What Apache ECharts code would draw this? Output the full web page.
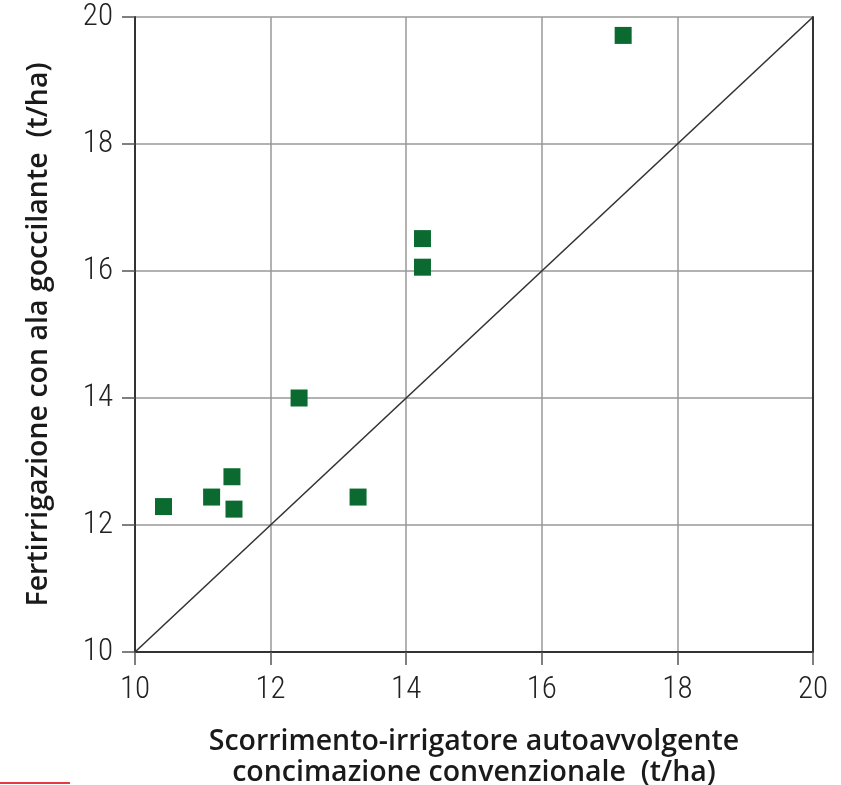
<!DOCTYPE html>
<html><head><meta charset="utf-8">
<script src="https://cdn.jsdelivr.net/npm/echarts@6/dist/echarts.min.js"></script>
<style>html,body{margin:0;padding:0;background:#fff}#c{width:841px;height:785px}</style>
</head><body><div id="c"></div>
<script>
const xValues = [10.42, 11.13, 11.43, 11.46, 12.42, 13.29, 14.24, 14.24, 17.2];
const yValues = [12.29, 12.44, 12.76, 12.25, 14.0, 12.44, 16.51, 16.06, 19.71];
const refLine = [[10, 10], [20, 20]];
const xTitle = 'Scorrimento-irrigatore autoavvolgente\nconcimazione convenzionale  (t/ha)';
const yTitle = 'Fertirrigazione con ala goccilante  (t/ha)';

const pts = xValues.map((x, i) => [x, yValues[i]]);
const tickFont = { fontFamily: 'Roboto Condensed, Roboto, sans-serif', fontWeight: 300, fontSize: 31, color: '#222' };
const titleFont = { fontFamily: 'Open Sans, sans-serif', fontWeight: 600, fontSize: 28.5, color: '#1a1a1a' };

const chart = echarts.init(document.getElementById('c'));
chart.setOption({
  animation: false,
  grid: { left: 135, right: 28, top: 17, bottom: 133, containLabel: false, outerBoundsMode: 'none' },
  xAxis: {
    type: 'value', min: 10, max: 20, interval: 2,
    name: xTitle, nameLocation: 'middle', nameGap: 74,
    nameTextStyle: Object.assign({ lineHeight: 31 }, titleFont),
    axisLine: { show: true, lineStyle: { color: '#333', width: 2 } },
    axisTick: { show: true, length: 13, lineStyle: { color: '#555', width: 1.5 } },
    axisLabel: Object.assign({ margin: 23 }, tickFont),
    splitLine: { show: true, lineStyle: { color: '#999', width: 1.5 } }
  },
  yAxis: [{
    type: 'value', min: 10, max: 20, interval: 2,
    name: yTitle, nameLocation: 'middle', nameGap: 82,
    nameTextStyle: titleFont,
    axisLine: { show: true, lineStyle: { color: '#333', width: 2 } },
    axisTick: { show: true, length: 13, lineStyle: { color: '#555', width: 1.5 } },
    axisLabel: Object.assign({ margin: 22 }, tickFont),
    splitLine: { show: true, lineStyle: { color: '#999', width: 1.5 } }
  }, {
    type: 'value', min: 10, max: 20, interval: 2, position: 'right',
    axisLine: { show: true, lineStyle: { color: '#333', width: 2 } },
    axisTick: { show: false }, axisLabel: { show: false }, splitLine: { show: false }
  }],
  series: [{
    type: 'line', data: refLine, showSymbol: false, symbol: 'none',
    lineStyle: { color: '#333', width: 1.6 }, z: 2
  }, {
    type: 'scatter', data: pts, symbol: 'rect', symbolSize: 17,
    itemStyle: { color: '#0b6a30', opacity: 1 }, z: 3
  }],
  graphic: [{
    type: 'line', shape: { x1: 0, y1: 783, x2: 70, y2: 783 },
    style: { stroke: '#e63946', lineWidth: 2 }
  }]
});
</script></body></html>
